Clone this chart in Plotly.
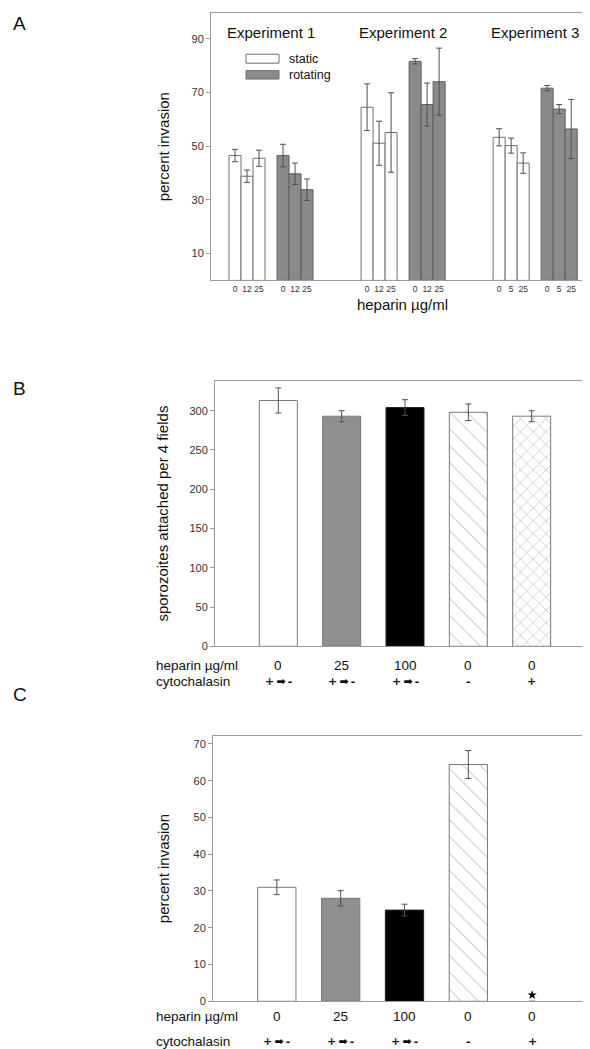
import plotly.graph_objects as go

# ---------------- Data ----------------
# Panel A
experiments = ["Experiment 1", "Experiment 2", "Experiment 3"]
dose_labels = [["0", "12", "25"], ["0", "12", "25"], ["0", "5", "25"]]
static_vals = [46.5, 38.8, 45.5, 64.5, 51.1, 55.1, 53.3, 50.2, 43.7]
static_err = [2.3, 2.3, 3.0, 8.7, 8.2, 14.8, 3.2, 2.8, 3.8]
rotating_vals = [46.5, 39.7, 33.8, 81.6, 65.5, 74.0, 71.6, 63.8, 56.4]
rotating_err = [4.2, 4.0, 4.0, 1.0, 8.0, 12.5, 1.0, 1.7, 11.0]

# Panel B
b_vals = [313, 293, 304, 298, 293]
b_err = [16, 7, 10, 10.5, 7]

# Panel C
c_vals = [31.0, 28.0, 24.8, 64.4, 0]
c_err = [2.0, 2.1, 1.6, 3.8, 0]
c_star_value = 1.7

# Shared condition labels (B and C)
heparin_labels = ["0", "25", "100", "0", "0"]
cyto_labels = ["+\u2009\u27a1\u2009-", "+\u2009\u27a1\u2009-", "+\u2009\u27a1\u2009-", "-", "+"]

FONT = "Liberation Sans, Arial, Helvetica, sans-serif"
W, H = 590, 1049
AXC = "#9a9a9a"

def px_x(p):
    return p / W

def px_y(p):
    return 1 - p / H

fig = go.Figure()

# ---------- Panel A ----------
static_x, rot_x, tickvals, ticktext = [], [], [], []
for e in range(3):
    for d in range(3):
        static_x.append(2 + e * 11 + d)
        rot_x.append(2 + e * 11 + 4 + d)
for e in range(3):
    for c in range(2):
        for d in range(3):
            tickvals.append(2 + e * 11 + c * 4 + d)
            ticktext.append(dose_labels[e][d])

err_style = dict(type="data", color="#505050", thickness=1, width=3)

fig.add_trace(go.Bar(
    x=static_x, y=static_vals, width=1.0, name="static",
    marker=dict(color="white", line=dict(color="#707070", width=1)),
    error_y=dict(array=static_err, **err_style),
    xaxis="x", yaxis="y", showlegend=False))
fig.add_trace(go.Bar(
    x=rot_x, y=rotating_vals, width=1.0, name="rotating",
    marker=dict(color="#8a8a8a", line=dict(color="#5e5e5e", width=1)),
    error_y=dict(array=rotating_err, **err_style),
    xaxis="x", yaxis="y", showlegend=False))

# ---------- Panel B ----------
bc_colors = ["white", "#8f8f8f", "black", "white", "white"]
bc_line = ["#7a7a7a", "#7a7a7a", "#222222", "#7a7a7a", "#7a7a7a"]
bc_shapes = ["", "", "", "\\", "x"]
bc_psize = [8, 8, 8, 12, 9]
bc_solid = [0.1, 0.1, 0.1, 0.07, 0.1]
pos = [1, 2, 3, 4, 5]

fig.add_trace(go.Bar(
    x=pos, y=b_vals, width=0.6,
    marker=dict(color=bc_colors, line=dict(color=bc_line, width=1),
                pattern=dict(shape=bc_shapes, fgcolor="#5a5a5a", size=bc_psize,
                             solidity=bc_solid)),
    error_y=dict(array=b_err, **err_style),
    xaxis="x2", yaxis="y2", showlegend=False))

# ---------- Panel C ----------
c_shapes = ["", "", "", "\\", ""]
fig.add_trace(go.Bar(
    x=pos, y=c_vals, width=0.6,
    marker=dict(color=bc_colors, line=dict(color=bc_line, width=[1, 1, 1, 1, 0]),
                pattern=dict(shape=c_shapes, fgcolor="#5a5a5a", size=bc_psize,
                             solidity=bc_solid)),
    error_y=dict(array=c_err, **err_style),
    xaxis="x3", yaxis="y3", showlegend=False))
fig.add_trace(go.Scatter(
    x=[5], y=[c_star_value], mode="markers",
    marker=dict(symbol="star", size=7, color="black"),
    xaxis="x3", yaxis="y3", showlegend=False))

tickfont = dict(family=FONT, size=11, color="#333333")
axis_common = dict(showline=True, linecolor=AXC, linewidth=1, mirror=True,
                   showgrid=False, zeroline=False)
title_font = dict(family=FONT, size=15, color="#111111")

fig.update_layout(
    width=W, height=H, autosize=False,
    margin=dict(l=0, r=0, t=0, b=0),
    paper_bgcolor="white", plot_bgcolor="white",
    font=dict(family=FONT, color="#111111"),
    barmode="overlay",
    xaxis=dict(domain=[px_x(203), px_x(586)], range=[0, 31.9], anchor="y",
               tickvals=tickvals, ticktext=ticktext, ticks="", tickangle=0,
               tickfont=dict(family=FONT, size=8.5, color="#333333"),
               title=dict(text="heparin \u00b5g/ml", font=title_font, standoff=6),
               **axis_common),
    yaxis=dict(domain=[px_y(274), px_y(5)], range=[0, 99.6], anchor="x",
               tickvals=[10, 30, 50, 70, 90], ticks="outside", ticklen=4, tickcolor=AXC,
               tickfont=tickfont,
               title=dict(text="percent invasion", font=title_font, standoff=18),
               **axis_common),
    xaxis2=dict(domain=[px_x(207), px_x(587)], range=[0, 6], anchor="y2",
                showticklabels=False, ticks="", **axis_common),
    yaxis2=dict(domain=[px_y(642), px_y(375)], range=[0, 338], anchor="x2",
                tickvals=[0, 50, 100, 150, 200, 250, 300], ticks="outside", ticklen=4,
                tickcolor=AXC, tickfont=tickfont,
                title=dict(text="sporozoites attached per 4 fields", font=title_font, standoff=17),
                **axis_common),
    xaxis3=dict(domain=[px_x(205), px_x(588)], range=[0, 6], anchor="y3",
                showticklabels=False, ticks="", **axis_common),
    yaxis3=dict(domain=[px_y(999), px_y(732)], range=[0, 72.2], anchor="x3",
                tickvals=[0, 10, 20, 30, 40, 50, 60, 70], ticks="outside", ticklen=4,
                tickcolor=AXC, tickfont=tickfont,
                title=dict(text="percent invasion", font=title_font, standoff=20),
                **axis_common),
)

ann = []
# Panel letters
for letter, py in [("A", 16), ("B", 383), ("C", 690)]:
    ann.append(dict(text=letter, x=px_x(3), y=px_y(py), xref="paper", yref="paper",
                    xanchor="left", yanchor="middle", showarrow=False,
                    font=dict(family=FONT, size=19, color="#111111")))
# Experiment titles
for e, name in enumerate(experiments):
    ann.append(dict(text=name, x=2 + e * 11 + 3, y=px_y(25), xref="x", yref="paper",
                    xanchor="center", yanchor="middle", showarrow=False,
                    font=dict(family=FONT, size=15, color="#111111")))
# Legend (A)
shapes = []
for label, y0, y1, col in [("static", 46.5, 55.5, "white"), ("rotating", 63, 71.5, "#8a8a8a")]:
    shapes.append(dict(type="rect", xref="paper", yref="paper",
                       x0=px_x(238), x1=px_x(271), y0=px_y(y1), y1=px_y(y0),
                       fillcolor=col, line=dict(color="#6e6e6e", width=1)))
    ann.append(dict(text=label, x=px_x(279), y=px_y((y0 + y1) / 2), xref="paper", yref="paper",
                    xanchor="left", yanchor="middle", showarrow=False,
                    font=dict(family=FONT, size=12.5, color="#111111")))

# Condition rows for B and C
for xref, hy, cy in [("x2", 661, 677), ("x3", 1014, 1039)]:
    ann.append(dict(text="heparin \u00b5g/ml", x=px_x(146), y=px_y(hy), xref="paper", yref="paper",
                    xanchor="left", yanchor="middle", showarrow=False,
                    font=dict(family=FONT, size=13.5, color="#111111")))
    ann.append(dict(text="cytochalasin", x=px_x(146), y=px_y(cy), xref="paper", yref="paper",
                    xanchor="left", yanchor="middle", showarrow=False,
                    font=dict(family=FONT, size=13.5, color="#111111")))
    for i in range(5):
        ann.append(dict(text=heparin_labels[i], x=pos[i], y=px_y(hy), xref=xref, yref="paper",
                        xanchor="center", yanchor="middle", showarrow=False,
                        font=dict(family=FONT, size=13.5, color="#111111")))
        ann.append(dict(text="<b>" + cyto_labels[i] + "</b>", x=pos[i], y=px_y(cy), xref=xref,
                        yref="paper", xanchor="center", yanchor="middle", showarrow=False,
                        font=dict(family="DejaVu Sans, " + FONT, size=11, color="#111111")))

fig.update_layout(annotations=ann, shapes=shapes)
fig.write_html("out.html")
